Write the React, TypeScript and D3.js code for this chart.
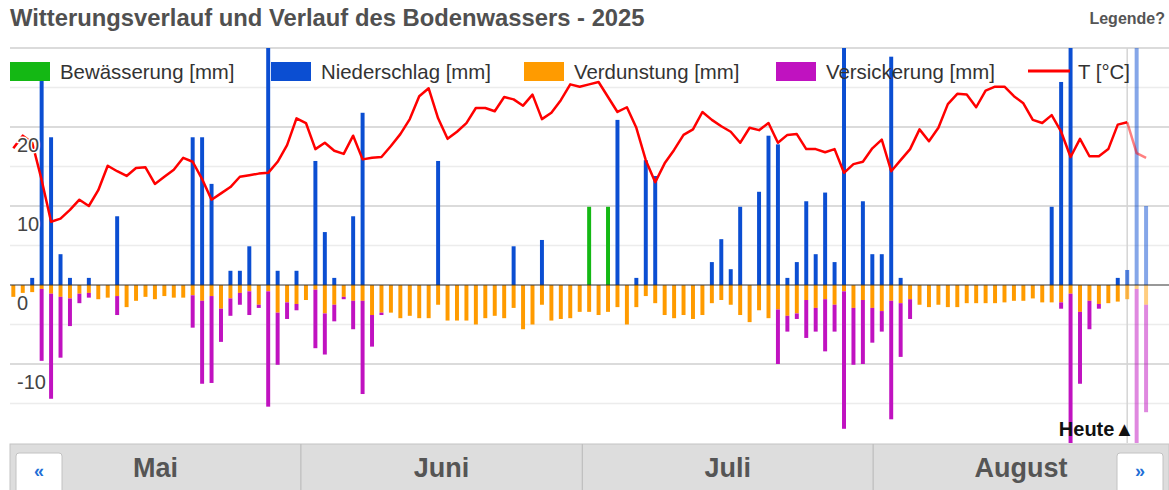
import React, { useEffect, useRef } from 'react';
import * as d3 from 'd3';

// one entry per day, May 1st .. Aug 29th 2025
const days = d3.timeDay.range(new Date(2025, 4, 1), new Date(2025, 7, 30));
const today = new Date(2025, 7, 27);

const rain = [
  0, 0, 0.9, 26, 18.7, 3.9, 0.9, 0, 0.9, 0,
  0, 8.7, 0, 0, 0, 0, 0, 0, 0, 18.7,
  18.7, 12.8, 0, 1.8, 1.8, 4.9, 0, 35, 1.8, 0,
  1.8, 0, 15.7, 6.7, 0.9, 0, 8.7, 21.8, 0, 0,
  0, 0, 0, 0, 0, 15.7, 0, 0, 0, 0,
  0, 0, 0, 4.9, 0, 0, 5.7, 0, 0, 0,
  0, 0, 0, 0, 20.9, 0, 0.9, 15.8, 13.8, 0,
  0, 0, 0, 0, 2.9, 5.8, 2.0, 9.9, 0, 11.8,
  18.9, 17.8, 0.9, 2.9, 10.6, 3.9, 11.7, 2.9, 34, 0,
  10.6, 3.9, 3.9, 28.9, 0.9, 0, 0, 0, 0, 0,
  0, 0, 0, 0, 0, 0, 0, 0, 0, 0,
  9.9, 25.7, 34, 0, 0, 0, 0, 0.9, 1.9, 34,
  10,
];

const irrigation = [
  0, 0, 0, 0, 0, 0, 0, 0, 0, 0,
  0, 0, 0, 0, 0, 0, 0, 0, 0, 0,
  0, 0, 0, 0, 0, 0, 0, 0, 0, 0,
  0, 0, 0, 0, 0, 0, 0, 0, 0, 0,
  0, 0, 0, 0, 0, 0, 0, 0, 0, 0,
  0, 0, 0, 0, 0, 0, 0, 0, 0, 0,
  0, 9.9, 0, 9.9, 0, 0, 0, 0, 0, 0,
  0, 0, 0, 0, 0, 0, 0, 0, 0, 0,
  0, 0, 0, 0, 0, 0, 0, 0, 0, 0,
  0, 0, 0, 0, 0, 0, 0, 0, 0, 0,
  0, 0, 0, 0, 0, 0, 0, 0, 0, 0,
  0, 0, 0, 0, 0, 0, 0, 0, 0, 0,
  0,
];

const evaporation = [
  1.5, 1.0, 0.9, 0.5, 1.1, 1.5, 1.7, 1.1, 1.0, 1.8,
  1.6, 1.4, 2.8, 2.0, 1.5, 1.8, 1.4, 1.6, 1.6, 1.3,
  2.0, 1.4, 3.0, 1.7, 1.0, 0.8, 2.5, 0.8, 3.5, 2.2,
  2.4, 1.9, 0.6, 3.6, 2.5, 1.5, 2.0, 2.0, 3.8, 3.5,
  3.5, 4.2, 3.9, 4.2, 4.2, 2.5, 4.5, 4.5, 4.5, 5.0,
  4.2, 3.9, 4.2, 2.9, 5.6, 5.0, 2.5, 4.5, 4.3, 4.2,
  3.4, 3.4, 3.8, 3.4, 2.8, 5.0, 2.8, 1.4, 2.3, 3.8,
  4.2, 3.8, 4.3, 3.8, 2.3, 1.9, 2.5, 3.8, 4.7, 3.2,
  4.2, 3.1, 3.9, 3.6, 1.9, 2.9, 1.8, 2.5, 0.8, 2.9,
  1.9, 2.9, 3.3, 2.0, 2.3, 1.8, 2.5, 2.8, 2.5, 2.8,
  2.8, 2.3, 2.3, 2.3, 2.3, 2.2, 2.0, 2.0, 1.7, 2.2,
  2.2, 2.2, 1.1, 3.4, 2.0, 2.4, 2.3, 2.1, 1.8, 0.5,
  2.5,
];

const percolation = [
  0, 0, 0, 9.1, 13.3, 7.7, 3.5, 1.2, 0.6, 0,
  0, 2.4, 0, 0, 0, 0, 0, 0, 0, 4.1,
  10.5, 11.0, 4.2, 2.2, 1.5, 3.0, 0.4, 14.6, 6.6, 2.1,
  0.8, 0, 7.4, 5.2, 2.1, 0.3, 3.6, 11.8, 4.0, 0.3,
  0, 0, 0, 0, 0, 0, 0, 0, 0, 0,
  0, 0, 0, 0, 0, 0, 0, 0, 0, 0,
  0, 0, 0, 0, 0, 0, 0, 0, 0, 0,
  0, 0, 0, 0, 0, 0, 0, 0, 0, 0,
  0, 6.9, 2.0, 0.7, 4.8, 3.0, 6.6, 3.4, 17.4, 7.2,
  8.1, 4.4, 2.6, 15.0, 6.8, 2.5, 0, 0, 0, 0,
  0, 0, 0, 0, 0, 0, 0, 0, 0, 0,
  0, 0.8, 21, 9.1, 3.6, 0.6, 0, 0, 0, 21,
  13.6,
];

const temperature = [
  17.3, 18.9, 18.0, 13.3, 8.0, 8.4, 9.5, 10.8, 10.0, 12.0,
  15.1, 14.4, 13.8, 14.8, 14.9, 12.8, 13.7, 14.6, 16.1, 15.6,
  13.4, 10.8, 11.6, 12.4, 13.7, 13.9, 14.1, 14.2, 15.6, 17.7,
  21.1, 20.5, 17.2, 18.0, 17.0, 16.6, 18.9, 15.9, 16.1, 16.2,
  17.6, 19.1, 21.0, 23.9, 24.9, 21.1, 18.5, 19.4, 20.5, 22.4,
  22.4, 22.0, 23.8, 23.5, 22.7, 24.1, 21.0, 21.8, 23.4, 25.4,
  25.1, 25.4, 25.7, 23.8, 21.9, 22.5, 19.9, 15.8, 13.0, 15.4,
  17.1, 19.0, 19.7, 21.9, 20.9, 20.1, 19.4, 18.0, 19.9, 19.6,
  20.5, 18.0, 19.0, 19.1, 17.2, 17.2, 16.8, 17.2, 14.2, 15.3,
  15.6, 17.3, 18.4, 14.4, 15.8, 17.2, 19.7, 18.2, 19.9, 22.9,
  24.2, 24.1, 22.5, 24.6, 25.1, 25.1, 23.9, 23.0, 20.9, 20.5,
  21.5, 19.4, 16.2, 18.5, 16.3, 16.3, 17.2, 20.3, 20.6, 16.7,
  16.1,
];

const months = ['Mai', 'Juni', 'Juli', 'August'];
const yTicks = [20, 10, 0, -10];

const legendItems = [
  { label: 'Bewässerung [mm]', color: '#14b814', type: 'box' },
  { label: 'Niederschlag [mm]', color: '#0b4ed2', type: 'box' },
  { label: 'Verdunstung [mm]', color: '#ff9b00', type: 'box' },
  { label: 'Versickerung [mm]', color: '#c012c0', type: 'box' },
  { label: 'T [°C]', color: '#ff0000', type: 'line' },
];
const legendX = [10, 271, 524, 776, 1028];

const App = () => {
  const svgRef = useRef<SVGSVGElement>(null);

  useEffect(() => {
    const svg = d3.select(svgRef.current);
    svg.selectAll('*').remove();

    const width = 1169;
    const plotLeft = 10;
    const fmt = d3.timeFormat('%Y-%m-%d');
    const keys = days.map(fmt);
    const todayIdx = keys.indexOf(fmt(today));

    const x = d3.scaleBand()
      .domain(keys)
      .range([8.6, 1150.8])
      .paddingInner(0.58)
      .paddingOuter(0.29);
    const cx = (i: number) => (x(keys[i]) as number) + x.bandwidth() / 2;

    const y = d3.scaleLinear().domain([-20, 30]).range([443, 48]);

    const opacityOf = (i: number) => (i < todayIdx ? 1 : i === todayIdx ? 0.7 : 0.5);

    // title
    svg.append('text')
      .attr('x', 10).attr('y', 26)
      .attr('font-size', 23.8).attr('font-weight', 'bold')
      .attr('fill', '#505050')
      .text('Witterungsverlauf und Verlauf des Bodenwassers - 2025');

    svg.append('text')
      .attr('x', 1165).attr('y', 24)
      .attr('text-anchor', 'end')
      .attr('font-size', 16).attr('font-weight', 'bold')
      .attr('fill', '#555')
      .text('Legende?');

    // gridlines
    const grid = d3.range(-15, 31, 5).filter(v => v !== 0);
    svg.append('g')
      .selectAll('line')
      .data(grid)
      .enter().append('line')
      .attr('x1', plotLeft).attr('x2', width)
      .attr('y1', d => y(d)).attr('y2', d => y(d))
      .attr('stroke', d => (d % 10 === 0 ? '#cfcfcf' : '#ececec'))
      .attr('stroke-width', 1.5);

    // today marker line
    const todayX = cx(todayIdx);
    svg.append('line')
      .attr('x1', todayX).attr('x2', todayX)
      .attr('y1', y(30)).attr('y2', y(-20))
      .attr('stroke', '#d4d4d4').attr('stroke-width', 1.5);

    svg.append('clipPath').attr('id', 'plotClip')
      .append('rect')
      .attr('x', plotLeft).attr('y', y(30))
      .attr('width', width - plotLeft).attr('height', y(-20) - y(30));

    const bars = svg.append('g').attr('clip-path', 'url(#plotClip)');
    const idx = d3.range(keys.length);
    const bw = x.bandwidth();

    const addSeries = (vals: number[], base: (i: number) => number, sign: number, color: string) => {
      bars.append('g')
        .selectAll('rect')
        .data(idx.filter(i => vals[i] > 0))
        .enter().append('rect')
        .attr('x', i => x(keys[i]) as number)
        .attr('width', bw)
        .attr('y', i => (sign > 0 ? y(base(i) + vals[i]) : y(base(i))))
        .attr('height', i => Math.abs(y(base(i) + sign * vals[i]) - y(base(i))))
        .attr('fill', color)
        .attr('opacity', i => opacityOf(i));
    };

    addSeries(irrigation, () => 0, 1, legendItems[0].color);
    addSeries(rain, i => irrigation[i], 1, legendItems[1].color);
    addSeries(evaporation, () => 0, -1, legendItems[2].color);
    addSeries(percolation, i => -evaporation[i], -1, legendItems[3].color);

    // zero line
    svg.append('line')
      .attr('x1', plotLeft).attr('x2', width)
      .attr('y1', y(0)).attr('y2', y(0))
      .attr('stroke', '#333').attr('stroke-width', 1.2);

    // temperature
    const line = d3.line<number>()
      .x(i => cx(i))
      .y(i => y(temperature[i]));
    svg.append('path')
      .datum(idx.filter(i => i <= todayIdx))
      .attr('fill', 'none')
      .attr('stroke', '#ff0000')
      .attr('stroke-width', 2.5)
      .attr('stroke-linejoin', 'round')
      .attr('d', line);
    svg.append('path')
      .datum(idx.filter(i => i >= todayIdx))
      .attr('fill', 'none')
      .attr('stroke', '#ff0000')
      .attr('stroke-opacity', 0.5)
      .attr('stroke-width', 2.5)
      .attr('d', line);

    // y labels (inside, with white halo)
    svg.append('g')
      .selectAll('text')
      .data(yTicks)
      .enter().append('text')
      .attr('x', 17)
      .attr('y', d => y(d) + 25)
      .attr('font-size', 20)
      .attr('fill', '#444')
      .attr('stroke', '#fff')
      .attr('stroke-width', 3)
      .attr('paint-order', 'stroke')
      .text(d => d);

    // legend
    const lg = svg.append('g');
    legendItems.forEach((item, k) => {
      const lx = legendX[k];
      if (item.type === 'box') {
        lg.append('rect')
          .attr('x', lx).attr('y', 62)
          .attr('width', 40).attr('height', 19)
          .attr('fill', item.color);
      } else {
        lg.append('line')
          .attr('x1', lx).attr('x2', lx + 42)
          .attr('y1', 71).attr('y2', 71)
          .attr('stroke', item.color).attr('stroke-width', 3);
      }
      lg.append('text')
        .attr('x', lx + 50).attr('y', 79)
        .attr('font-size', 20.4)
        .attr('fill', '#333')
        .text(item.label);
    });

    // Heute marker
    svg.append('text')
      .attr('x', todayX + 7).attr('y', 436)
      .attr('text-anchor', 'end')
      .attr('font-size', 20).attr('font-weight', 'bold')
      .attr('fill', '#111')
      .text('Heute▲');

    // month navigation bar
    const monthStarts = d3.timeMonth.range(new Date(2025, 4, 1), new Date(2025, 8, 1));
    const nav = d3.scaleTime()
      .domain([new Date(2025, 4, 1), new Date(2025, 8, 1)])
      .range([plotLeft, 1164]);
    const navG = svg.append('g');
    navG.append('rect')
      .attr('x', plotLeft).attr('y', 444)
      .attr('width', width - plotLeft).attr('height', 50)
      .attr('fill', '#dddddd').attr('stroke', '#c4c4c4');
    navG.selectAll('line.sep')
      .data(monthStarts.slice(1))
      .enter().append('line')
      .attr('class', 'sep')
      .attr('x1', d => nav(d)).attr('x2', d => nav(d))
      .attr('y1', 444).attr('y2', 490)
      .attr('stroke', '#bdbdbd').attr('stroke-width', 1.2);
    navG.selectAll('text.month')
      .data(monthStarts)
      .enter().append('text')
      .attr('class', 'month')
      .attr('x', (d, i) => {
        const end = i < monthStarts.length - 1 ? nav(monthStarts[i + 1]) : width;
        return (nav(d) + end) / 2;
      })
      .attr('y', 477)
      .attr('text-anchor', 'middle')
      .attr('font-size', 27).attr('font-weight', 'bold')
      .attr('fill', '#555')
      .text((d, i) => months[i]);

    [{ x0: 16, s: '«' }, { x0: 1117, s: '»' }].forEach(b => {
      navG.append('rect')
        .attr('x', b.x0).attr('y', 453)
        .attr('width', 46).attr('height', 40)
        .attr('rx', 3)
        .attr('fill', '#fff').attr('stroke', '#c2c2c2');
      navG.append('text')
        .attr('x', b.x0 + 23).attr('y', 477)
        .attr('text-anchor', 'middle')
        .attr('font-size', 18).attr('font-weight', 'bold')
        .attr('fill', '#1f6fd6')
        .text(b.s);
    });
  }, []);

  return (
    <svg
      ref={svgRef}
      width={1169}
      height={490}
      style={{ position: 'absolute', left: 0, top: 0, fontFamily: 'Arial, "Liberation Sans", sans-serif' }}
    />
  );
};

export default App;
